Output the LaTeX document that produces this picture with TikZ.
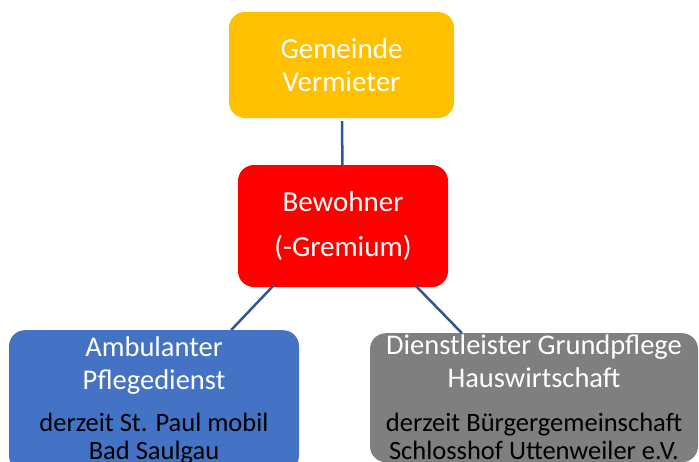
\documentclass[tikz,border=0pt]{standalone}
\usepackage{fontspec}
\setmainfont{Carlito}
\definecolor{gemgold}{HTML}{FFC000}
\definecolor{bewred}{HTML}{FF0000}
\definecolor{pflegeblue}{HTML}{4472C4}
\definecolor{dienstgrey}{HTML}{7F7F7F}
\definecolor{linkblue}{HTML}{2F5597}
\newcommand{\detailline}[1]{\color{black}\fontsize{26.5}{28}\selectfont #1}

\begin{document}
\begin{tikzpicture}[x=1pt,y=-1pt,
  orgbox/.style={rounded corners=16pt,align=center,text=white,inner sep=0pt,
    font=\fontsize{29}{33}\selectfont},
  subbox/.style={orgbox,anchor=north,font=\fontsize{28.5}{28}\selectfont},
  link/.style={draw=linkblue,line width=2.5pt}]
\useasboundingbox (0,0) rectangle (699,461);
\clip (0,0) rectangle (699,461);
\node[orgbox,fill=gemgold,minimum width=225pt,minimum height=106pt] (gemeinde) at (341.5,65) {Gemeinde\\Vermieter};
\node[orgbox,fill=bewred,minimum width=210pt,minimum height=122pt] (bewohner) at (343,226) {Bewohner\\[12pt](-Gremium)};
\node[subbox,fill=pflegeblue,minimum width=290pt,inner ysep=7pt] (pflege) at (154,330)
  {Ambulanter\\[5pt]Pflegedienst\\[14pt]\detailline{derzeit St. Paul mobil}\\\detailline{Bad Saulgau}};
\node[subbox,fill=dienstgrey,minimum width=328pt,inner ysep=2pt] (dienst) at (534,333)
  {Dienstleister Grundpflege\\[5pt]Hauswirtschaft\\[16pt]\detailline{derzeit B\"urgergemeinschaft}\\\detailline{Schlosshof Uttenweiler e.V.}};
% connectors
\draw[link,shorten <=3pt] (gemeinde) -- (bewohner);
\draw[link] ([xshift=36pt,yshift=2pt]bewohner.south west) -- ([xshift=-68pt]pflege.north east);
\draw[link] ([xshift=-33pt,yshift=2pt]bewohner.south east) -- ([xshift=92pt]dienst.north west);
\end{tikzpicture}
\end{document}
